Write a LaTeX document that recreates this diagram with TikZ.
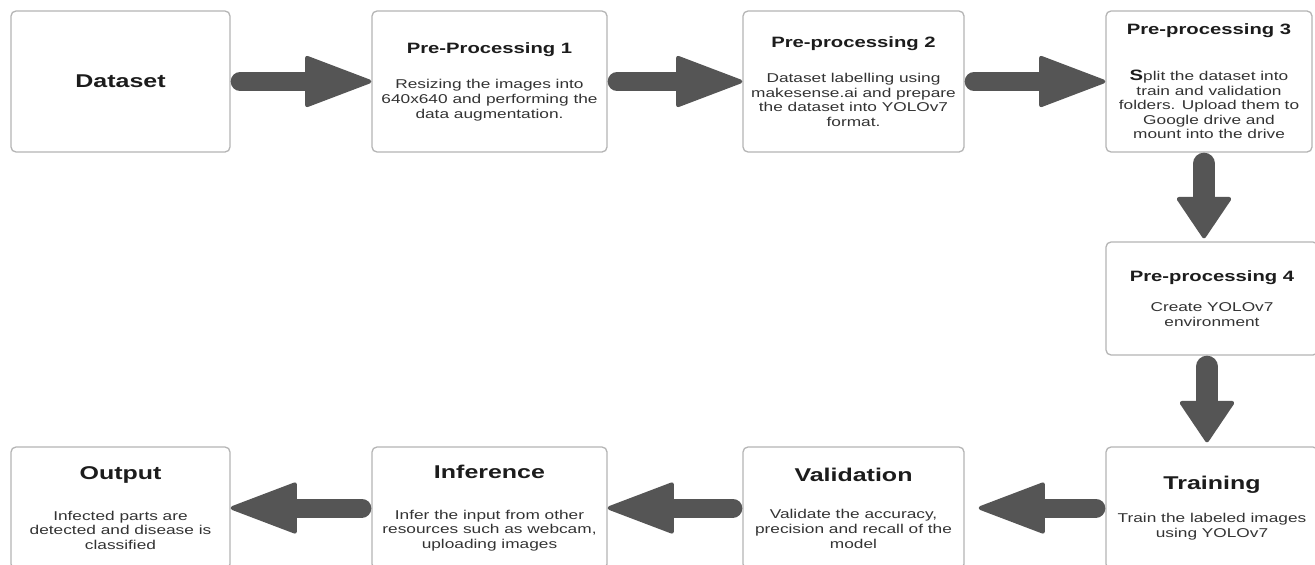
\documentclass[tikz,border=0pt]{standalone}
\usepackage{fontspec}
\setmainfont{Liberation Sans}[FakeStretch=1.35]
\usetikzlibrary{arrows.meta}
\definecolor{boxgray}{HTML}{B5B5B5}
\definecolor{arrgray}{HTML}{555555}
\definecolor{txtdark}{HTML}{1C1C1C}
\definecolor{txtbody}{HTML}{333333}
\newcommand{\ttl}[1]{{\fontsize{15}{18}\selectfont\bfseries\color{txtdark}#1}}
\newcommand{\bigttl}[1]{{\fontsize{18.5}{22}\selectfont\bfseries\color{txtdark}#1}}
\tikzset{
  stagebox/.style={draw=boxgray, line width=1.3pt, rounded corners=5pt, fill=white,
    align=center, inner sep=0pt, text=txtbody, font=\fontsize{12.8}{14.6}\selectfont},
  harrow/.style={draw=arrgray, line width=19pt, line cap=round, shorten <=9.5pt,
    -{Triangle[length=70pt, width=52pt, round, line width=4pt]}},
  varrow/.style={draw=arrgray, line width=22pt, line cap=round, shorten <=11pt,
    -{Triangle[length=43pt, width=57pt, round, line width=4pt]}}
}
\begin{document}
\begin{tikzpicture}[x=1pt, y=-1pt]
  \path[use as bounding box, fill=white] (0,0) rectangle (1315,565);

  % top row
  \node[stagebox, minimum width=219pt, minimum height=141pt] (ds) at (120.5,81.5)
    {\bigttl{Dataset}};
  \node[stagebox, minimum width=235pt, minimum height=141pt] (pp1) at (489.5,81.5)
    {\ttl{Pre-Processing 1}\\[21pt]Resizing the images into\\640x640 and performing the\\data augmentation.};
  \node[stagebox, minimum width=221pt, minimum height=141pt] (pp2) at (853.5,81.5)
    {\ttl{Pre-processing 2}\\[21pt]Dataset labelling using\\makesense.ai and prepare\\the dataset into YOLOv7\\format.};
  \node[stagebox, minimum width=206pt, minimum height=141pt] (pp3) at (1209,81.5)
    {\ttl{Pre-processing 3}\\[31pt]{\fontsize{15}{14.6}\selectfont\bfseries\color{txtdark}S}plit the dataset into\\train and validation\\folders. Upload them to\\Google drive and\\mount into the drive};

  % right column
  \node[stagebox, minimum width=212pt, minimum height=113pt] (pp4) at (1212,298.5)
    {\ttl{Pre-processing 4}\\[16pt]Create YOLOv7\\environment};

  % bottom row
  \node[stagebox, minimum width=212pt, minimum height=122pt] (tr) at (1212,508)
    {\bigttl{Training}\\[19pt]Train the labeled images\\using YOLOv7};
  \node[stagebox, minimum width=221pt, minimum height=122pt] (val) at (853.5,508)
    {\bigttl{Validation}\\[23pt]Validate the accuracy,\\precision and recall of the\\model};
  \node[stagebox, minimum width=235pt, minimum height=122pt] (inf) at (489.5,508)
    {\bigttl{Inference}\\[26pt]Infer the input from other\\resources such as webcam,\\uploading images};
  \node[stagebox, minimum width=219pt, minimum height=122pt] (out) at (120.5,508)
    {\bigttl{Output}\\[26pt]Infected parts are\\detected and disease is\\classified};

  % fat arrows between the stages
  \foreach \a/\b in {ds/pp1, pp1/pp2, pp2/pp3, val/inf, inf/out}
    \draw[harrow] (\a) -- (\b);
  \draw[harrow, shorten >=14pt] (tr) -- (val);
  \draw[varrow, shorten >=3pt] ([xshift=-5pt]pp3.south) -- ([xshift=-5pt]pp3.south |- pp4.north);
  \draw[varrow, shorten >=4pt] ([xshift=-5pt]pp4.south) -- ([xshift=-5pt]pp4.south |- tr.north);
\end{tikzpicture}
\end{document}
